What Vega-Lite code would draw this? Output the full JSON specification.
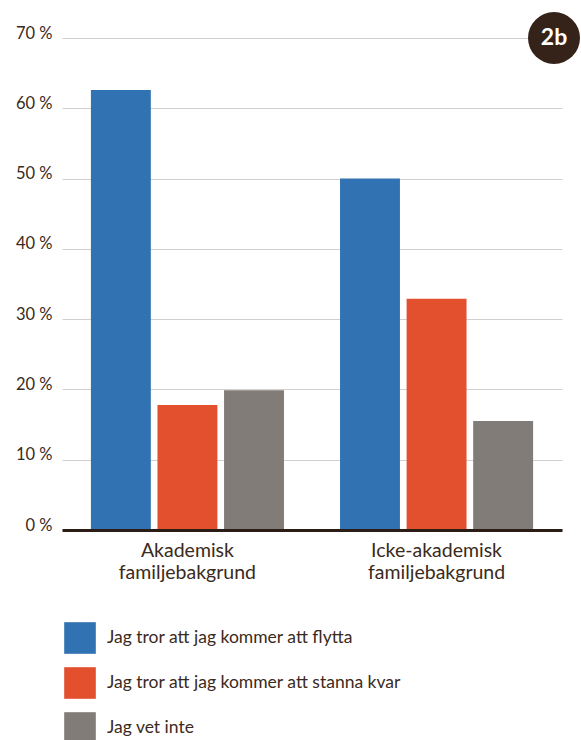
{
  "$schema": "https://vega.github.io/schema/vega-lite/v6.json",
  "width": 500,
  "height": 492,
  "autosize": {"type": "none"},
  "padding": {"left": 62, "top": 38, "right": 19, "bottom": 210},
  "background": "#ffffff",
  "config": {
    "view": {"stroke": null},
    "font": "Lato",
    "text": {"font": "Lato"}
  },
  "layer": [
    {
      "data": {
        "values": [
          {"group": "Akademisk familjebakgrund", "answer": "Jag tror att jag kommer att flytta", "percent": 62.6},
          {"group": "Akademisk familjebakgrund", "answer": "Jag tror att jag kommer att stanna kvar", "percent": 17.8},
          {"group": "Akademisk familjebakgrund", "answer": "Jag vet inte", "percent": 19.9},
          {"group": "Icke-akademisk familjebakgrund", "answer": "Jag tror att jag kommer att flytta", "percent": 50.0},
          {"group": "Icke-akademisk familjebakgrund", "answer": "Jag tror att jag kommer att stanna kvar", "percent": 32.9},
          {"group": "Icke-akademisk familjebakgrund", "answer": "Jag vet inte", "percent": 15.5}
        ]
      },
      "mark": {"type": "bar"},
      "encoding": {
        "x": {
          "field": "group",
          "type": "nominal",
          "sort": null,
          "scale": {"paddingInner": 0.225, "paddingOuter": 0.116},
          "axis": {
            "title": null,
            "labelAngle": 0,
            "labelExpr": "split(datum.label, ' ')",
            "labelFont": "Lato",
            "labelFontSize": 19.5,
            "labelColor": "#3b2a20",
            "labelLineHeight": 22,
            "labelPadding": 11,
            "ticks": false,
            "domain": true,
            "domainColor": "#2b1d15",
            "domainWidth": 3,
            "grid": false,
            "zindex": 1
          }
        },
        "xOffset": {
          "field": "answer",
          "type": "nominal",
          "sort": null,
          "scale": {"paddingInner": 0.1, "paddingOuter": 0}
        },
        "y": {
          "field": "percent",
          "type": "quantitative",
          "scale": {"domain": [0, 70], "nice": false},
          "axis": {
            "title": null,
            "values": [0, 10, 20, 30, 40, 50, 60, 70],
            "labelExpr": "datum.value + ' %'",
            "labelFont": "Lato",
            "labelFontSize": 16.5,
            "labelColor": "#3b2a20",
            "labelBaseline": "alphabetic",
            "labelPadding": 10,
            "ticks": false,
            "domain": false,
            "grid": true,
            "gridColor": "#d0d0d0",
            "gridWidth": 1
          }
        },
        "color": {
          "field": "answer",
          "type": "nominal",
          "sort": null,
          "scale": {
            "domain": ["Jag tror att jag kommer att flytta", "Jag tror att jag kommer att stanna kvar", "Jag vet inte"],
            "range": ["#3172b2", "#e2502e", "#817c78"]
          },
          "legend": {
            "title": null,
            "orient": "none",
            "legendX": 2,
            "legendY": 584,
            "direction": "vertical",
            "symbolType": "square",
            "symbolSize": 1000,
            "symbolStrokeWidth": 0,
            "symbolOpacity": 1,
            "labelFont": "Lato",
            "labelFontSize": 17.5,
            "labelColor": "#3b2a20",
            "labelOffset": 11,
            "rowPadding": 13,
            "labelLimit": 400,
            "padding": 0
          }
        }
      }
    },
    {
      "data": {"values": [{"badge": "2b"}]},
      "mark": {"type": "point", "shape": "circle", "filled": true, "size": 2700, "color": "#35231a", "opacity": 1},
      "encoding": {
        "x": {"value": {"expr": "width - 8"}},
        "y": {"datum": 70}
      }
    },
    {
      "data": {"values": [{"badge": "2b"}]},
      "mark": {"type": "text", "color": "#ffffff", "fontSize": 23, "fontWeight": "bold", "font": "Lato", "align": "center", "baseline": "middle"},
      "encoding": {
        "x": {"value": {"expr": "width - 8"}},
        "y": {"datum": 70},
        "text": {"field": "badge"}
      }
    }
  ]
}
